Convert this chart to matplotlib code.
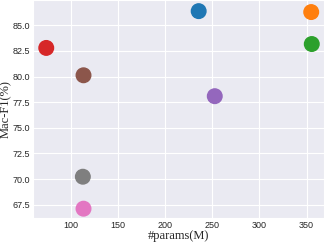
import numpy as np
import matplotlib
matplotlib.use('Agg')
import matplotlib.pyplot as plt
import seaborn as sns

# Datos (orden de colores tab10)
params = [235.4, 355.0, 355.6, 73.4, 252.5, 113.0, 113.0, 112.3]
mac_f1 = [86.39, 86.30, 83.18, 82.80, 78.09, 80.13, 67.11, 70.23]
colors = ['tab:blue', 'tab:orange', 'tab:green', 'tab:red',
          'tab:purple', 'tab:brown', 'tab:pink', 'tab:gray']

sns.set_style('darkgrid')
plt.rcParams['font.family'] = ['Liberation Sans', 'DejaVu Sans']

fig, ax = plt.subplots(figsize=(3.27, 2.43), dpi=100)
ax.scatter(params, mac_f1, c=colors, s=110, zorder=3)

ax.set_xlim(59, 369)
ax.set_ylim(66.18, 87.43)
ax.set_xticks([100, 150, 200, 250, 300, 350])
ax.set_yticks([67.5, 70.0, 72.5, 75.0, 77.5, 80.0, 82.5, 85.0])
ax.tick_params(labelsize=6.5, length=0, pad=2)
ax.set_xlabel('#params(M)', family='Liberation Serif', fontsize=9, labelpad=0)
ax.set_ylabel('Mac-F1(%)', family='Liberation Serif', fontsize=9,
              va='center')
ax.yaxis.set_label_coords(-0.093, 0.5)

fig.subplots_adjust(left=0.1, right=0.992, top=0.998, bottom=0.102)
fig.savefig('out.png', dpi=100)
